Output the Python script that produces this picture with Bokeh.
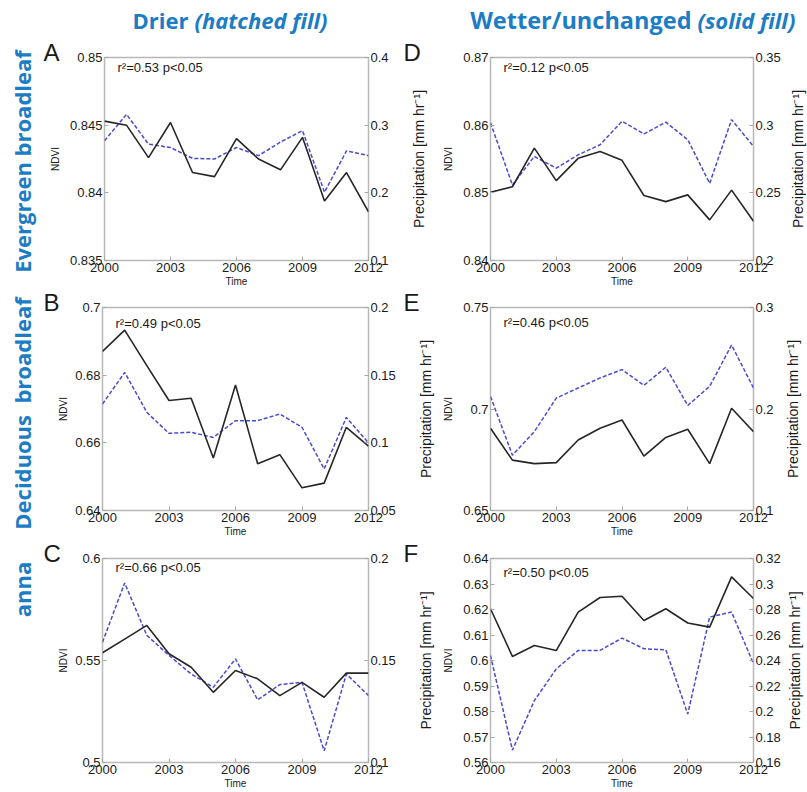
from math import pi
from bokeh.plotting import figure
from bokeh.models import Range1d, LinearAxis, FixedTicker, Label
from bokeh.layouts import column, row
from bokeh.core.properties import value
from bokeh.embed import file_html
from bokeh.resources import INLINE

# ---------------- data ----------------
years = list(range(2000, 2013))
x_ticks = [2000, 2003, 2006, 2009, 2012]

# A: Evergreen broadleaf, drier
ndvi_A = [0.8453, 0.8450, 0.8426, 0.8452, 0.8415, 0.8412, 0.8440, 0.8425, 0.8417, 0.8441, 0.8394, 0.8415, 0.8386]
precip_A = [0.277, 0.316, 0.272, 0.267, 0.251, 0.250, 0.267, 0.255, 0.275, 0.292, 0.201, 0.262, 0.255]
# B: Deciduous broadleaf, drier
ndvi_B = [0.6870, 0.6933, 0.6828, 0.6725, 0.6732, 0.6555, 0.6771, 0.6538, 0.6565, 0.6467, 0.6481, 0.6646, 0.6590]
precip_B = [0.1287, 0.1520, 0.1225, 0.1070, 0.1078, 0.1040, 0.1164, 0.1164, 0.1213, 0.1115, 0.0807, 0.1188, 0.0999]
# C: Savanna, drier
ndvi_C = [0.5538, 0.5605, 0.5672, 0.5533, 0.5467, 0.5344, 0.5451, 0.5410, 0.5328, 0.5393, 0.5320, 0.5438, 0.5438]
precip_C = [0.1590, 0.1880, 0.1623, 0.1525, 0.1434, 0.1369, 0.1508, 0.1307, 0.1382, 0.1393, 0.1057, 0.1434, 0.1328]
# D: Evergreen broadleaf, wetter/unchanged
ndvi_D = [0.8501, 0.8509, 0.8566, 0.8518, 0.8551, 0.8561, 0.8548, 0.8496, 0.8487, 0.8497, 0.8460, 0.8504, 0.8458]
precip_D = [0.3017, 0.2558, 0.2769, 0.2682, 0.2781, 0.2855, 0.3029, 0.2935, 0.3022, 0.2893, 0.2570, 0.3041, 0.2843]
# E: Deciduous broadleaf, wetter/unchanged
ndvi_E = [0.6905, 0.6748, 0.6731, 0.6736, 0.6847, 0.6905, 0.6946, 0.6768, 0.6860, 0.6900, 0.6731, 0.7004, 0.6888]
precip_E = [0.2124, 0.1545, 0.1777, 0.2107, 0.2207, 0.2306, 0.2388, 0.2233, 0.2412, 0.2035, 0.2223, 0.2630, 0.2207]
# F: Savanna, wetter/unchanged
ndvi_F = [0.6203, 0.6016, 0.6059, 0.6039, 0.6190, 0.6247, 0.6252, 0.6157, 0.6203, 0.6147, 0.6131, 0.6328, 0.6243]
precip_F = [0.2439, 0.1697, 0.2085, 0.2334, 0.2479, 0.2479, 0.2576, 0.2492, 0.2484, 0.1980, 0.2741, 0.2780, 0.2374]

ndvi_ticks_A = [0.835, 0.84, 0.845, 0.85]
precip_ticks_A = [0.1, 0.2, 0.3, 0.4]
ndvi_ticks_B = [0.64, 0.66, 0.68, 0.7]
precip_ticks_B = [0.05, 0.1, 0.15, 0.2]
ndvi_ticks_C = [0.5, 0.55, 0.6]
precip_ticks_C = [0.1, 0.15, 0.2]
ndvi_ticks_D = [0.84, 0.85, 0.86, 0.87]
precip_ticks_D = [0.2, 0.25, 0.3, 0.35]
ndvi_ticks_E = [0.65, 0.7, 0.75]
precip_ticks_E = [0.1, 0.2, 0.3]
ndvi_ticks_F = [0.56, 0.57, 0.58, 0.59, 0.6, 0.61, 0.62, 0.63, 0.64]
precip_ticks_F = [0.16, 0.18, 0.2, 0.22, 0.24, 0.26, 0.28, 0.3, 0.32]

stats = ["r\u00b2=0.53 p<0.05", "r\u00b2=0.49 p<0.05", "r\u00b2=0.66 p<0.05",
         "r\u00b2=0.12 p<0.05", "r\u00b2=0.46 p<0.05", "r\u00b2=0.50 p<0.05"]
letters_left = ["A", "B", "C"]
letters_right = ["D", "E", "F"]
row_titles = ["Evergreen broadleaf", "Deciduous\u00a0\u00a0broadleaf", "anna"]
head_left = ("Drier", "(hatched fill)")
head_right = ("Wetter/unchanged", "(solid fill)")
ndvi_label = "NDVI"
precip_label = "Precipitation [mm hr\u207b\u00b9]"
time_label = "Time"

# ---------------- style / layout ----------------
BLUE_TXT = "#1c7cc4"
FONT = "Liberation Sans"
HEAD_FONT = "Open Sans"
TXT = "#1a1a1a"

W = 807
HEAD_H = 40
ROW_Y0 = [40, 290, 540]          # top of each row (page px)
ROW_TOP = [17, 17, 18]          # border above frame
ROW_FH = [203, 203, 204]        # frame heights
BOTTOM = 30
STRIP_L_W = [66, 70, 70]
FRAME_L_X = 102                 # frame left of left column
FRAME_L_W = 266
MID_X0, MID_X1 = 400, 440
FRAME_R_X = 490
FRAME_R_W = 263
RSTRIP_X0 = 783

stat_dy = [10, 16, 9, 10, 15, 14]
side_y = [161, 413, 589]
ndvi_left_x = [55, 63, 63]
precip_left_x = [418, 425, 425]
precip_right_x = [797, 792, 794]

left_panels = [(ndvi_A, precip_A, ndvi_ticks_A, precip_ticks_A),
               (ndvi_B, precip_B, ndvi_ticks_B, precip_ticks_B),
               (ndvi_C, precip_C, ndvi_ticks_C, precip_ticks_C)]
right_panels = [(ndvi_D, precip_D, ndvi_ticks_D, precip_ticks_D),
                (ndvi_E, precip_E, ndvi_ticks_E, precip_ticks_E),
                (ndvi_F, precip_F, ndvi_ticks_F, precip_ticks_F)]


def blank(x0, x1, y0, y1):
    s = figure(width=x1 - x0, height=y1 - y0, x_range=Range1d(x0, x1),
               y_range=Range1d(y1, y0), output_backend="svg",
               toolbar_location=None, tools="", x_axis_location=None,
               y_axis_location=None, min_border=0)
    if "frame_align" in s.properties():
        s.frame_align = False
    s.outline_line_color = None
    s.background_fill_color = "white"
    s.border_fill_color = "white"
    s.grid.grid_line_color = None
    s.grid.visible = False
    return s


def put(s, x, y, text, font=FONT, size="13px", style="normal", color=TXT,
        angle=0.0, align="center", baseline="middle"):
    s.text(x=[x], y=[y], text=[text], angle=angle, text_font=value(font),
           text_font_size=value(size), text_font_style=value(style),
           text_color=color, text_align=value(align),
           text_baseline=value(baseline))


def style_axis(ax, ticks):
    ax.ticker = FixedTicker(ticks=ticks)
    ax.major_label_overrides = {t: f"{t:g}" for t in ticks}
    ax.axis_line_color = None
    ax.major_tick_in = 4
    ax.major_tick_out = 0
    ax.minor_tick_line_color = None
    ax.major_tick_line_color = "#a8a8a8"
    ax.major_label_text_font = FONT
    ax.major_label_text_font_size = "13px"
    ax.major_label_text_color = TXT
    ax.major_label_standoff = 2


def panel(nd, pr, yt, y2t, width, bl, fw, r, stat_text, stat, with_ndvi):
    fh = ROW_FH[r]
    p = figure(width=width, height=ROW_TOP[r] + fh + BOTTOM,
               x_range=Range1d(2000, 2012), y_range=Range1d(yt[0], yt[-1]),
               output_backend="svg", toolbar_location=None, tools="",
               min_border_left=bl, min_border_right=width - bl - fw,
               min_border_top=ROW_TOP[r], min_border_bottom=BOTTOM)
    p.extra_y_ranges = {"pr": Range1d(y2t[0], y2t[-1])}
    left_ax = p.yaxis[0]
    right_ax = LinearAxis(y_range_name="pr")
    p.add_layout(right_ax, "right")
    xa = p.xaxis[0]
    style_axis(xa, x_ticks)
    style_axis(left_ax, yt)
    style_axis(right_ax, y2t)
    xa.axis_label = time_label
    xa.axis_label_text_font = FONT
    xa.axis_label_text_font_size = "10px"
    xa.axis_label_text_font_style = "normal"
    xa.axis_label_text_color = TXT
    xa.axis_label_standoff = 1
    if with_ndvi:
        left_ax.axis_label = ndvi_label
        left_ax.axis_label_text_font = FONT
        left_ax.axis_label_text_font_size = "10px"
        left_ax.axis_label_text_font_style = "normal"
        left_ax.axis_label_text_color = TXT
        left_ax.axis_label_standoff = 6
    p.xgrid.visible = False
    p.ygrid.visible = False
    p.outline_line_color = "#b8b8b8"
    p.outline_line_width = 1.5
    p.background_fill_color = "white"
    p.border_fill_color = "white"
    p.line(years, pr, y_range_name="pr", line_color="#4a4ad0",
           line_width=1.5, line_dash="4 2")
    p.line(years, nd, line_color="#262626", line_width=1.6)
    p.add_layout(Label(x=13, y=fh - stat, x_units="screen", y_units="screen",
                       text=stat_text, text_font=FONT,
                       text_font_size="13px", text_color=TXT,
                       text_baseline="middle"))
    return p


# header
head = blank(0, W, 0, HEAD_H)
put(head, 188, 19, head_left[0], HEAD_FONT, "22px", "bold", BLUE_TXT, align="right")
put(head, 194, 19, head_left[1], HEAD_FONT, "22px", "bold italic", BLUE_TXT, align="left")
put(head, 691, 19, head_right[0], HEAD_FONT, "23.5px", "bold", BLUE_TXT, align="right")
put(head, 697, 19, head_right[1], HEAD_FONT, "22px", "bold italic", BLUE_TXT, align="left")

rows = [head]
for r in range(3):
    y0 = ROW_Y0[r]
    y1 = y0 + ROW_TOP[r] + ROW_FH[r] + BOTTOM
    ftop = y0 + ROW_TOP[r]
    fmid = ftop + ROW_FH[r] / 2

    sl = blank(0, STRIP_L_W[r], y0, y1)
    put(sl, 21, side_y[r], row_titles[r], HEAD_FONT, "22px", "bold", BLUE_TXT, angle=pi / 2)
    put(sl, 43, ftop - 5, letters_left[r], size="24px", align="left", baseline="middle")
    put(sl, ndvi_left_x[r], fmid, ndvi_label, size="10px", angle=pi / 2)

    nd, pr, yt, y2t = left_panels[r]
    pl = panel(nd, pr, yt, y2t, MID_X0 - STRIP_L_W[r], FRAME_L_X - STRIP_L_W[r],
               FRAME_L_W, r, stats[r], stat_dy[r], False)

    sm = blank(MID_X0, MID_X1, y0, y1)
    put(sm, 403, ftop - 5, letters_right[r], size="24px", align="left", baseline="middle")
    put(sm, precip_left_x[r], fmid, precip_label, size="14px", angle=pi / 2)

    nd, pr, yt, y2t = right_panels[r]
    pr_fig = panel(nd, pr, yt, y2t, RSTRIP_X0 - MID_X1, FRAME_R_X - MID_X1,
                   FRAME_R_W, r, stats[3 + r], stat_dy[3 + r], True)

    sr = blank(RSTRIP_X0, W, y0, y1)
    put(sr, precip_right_x[r], fmid, precip_label, size="14px", angle=pi / 2)

    rows.append(row(sl, pl, sm, pr_fig, sr))

layout = column(*rows)
open("out.html", "w").write(file_html(layout, INLINE))
